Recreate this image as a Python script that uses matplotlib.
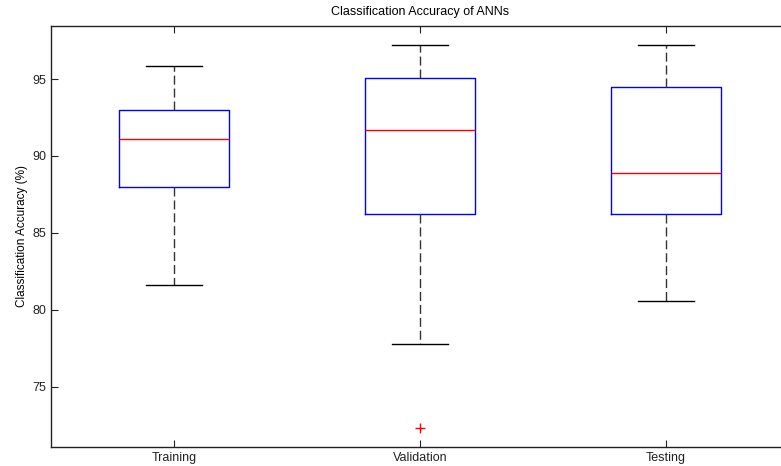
import matplotlib
matplotlib.use("Agg")
import matplotlib.pyplot as plt

plt.rcParams['font.family'] = ['Liberation Sans', 'DejaVu Sans']

groups = ['Training', 'Validation', 'Testing']
whisker_low = [81.6, 77.8, 80.6]
q1 = [88.0, 86.2, 86.2]
medians = [91.1, 91.7, 88.9]
q3 = [93.0, 95.1, 94.5]
whisker_high = [95.85, 97.2, 97.2]
outliers = [[], [72.3], []]

stats = []
for i in range(len(groups)):
    stats.append({'label': groups[i], 'whislo': whisker_low[i], 'q1': q1[i],
                  'med': medians[i], 'q3': q3[i], 'whishi': whisker_high[i],
                  'fliers': outliers[i]})

fig = plt.figure(figsize=(7.81, 4.66), dpi=100)
# right edge of the axes falls just outside the picture, like the original crop
ax = fig.add_axes([51/781, 1 - 447/466, (789 - 51)/781, (447 - 26)/466])

ax.bxp(stats, positions=[1, 2, 3], widths=0.45, showfliers=True,
       boxprops=dict(color='blue', linewidth=1),
       medianprops=dict(color='red', linewidth=1),
       whiskerprops=dict(color='#333333', linestyle=(0, (6.5, 2.8)), linewidth=1),
       capprops=dict(color='black', linewidth=1),
       flierprops=dict(marker='+', markeredgecolor='red', markersize=7, linestyle='none'),
       capwidths=0.228)

ax.set_xlim(0.5, 3.5)
ax.set_ylim(71.08, 98.45)
ax.set_yticks([75, 80, 85, 90, 95])
ax.set_xticks([1, 2, 3])
ax.set_xticklabels(groups)
ax.tick_params(direction='in', top=True, right=True, labelsize=9, length=5, colors='#222222')
for s in ax.spines.values():
    s.set_color('#222222')
    s.set_linewidth(1)

ax.set_title('Classification Accuracy of ANNs', fontsize=9, pad=8)
ax.set_ylabel('Classification Accuracy (%)', fontsize=8.5, labelpad=3)

fig.savefig('out.png', dpi=100)
